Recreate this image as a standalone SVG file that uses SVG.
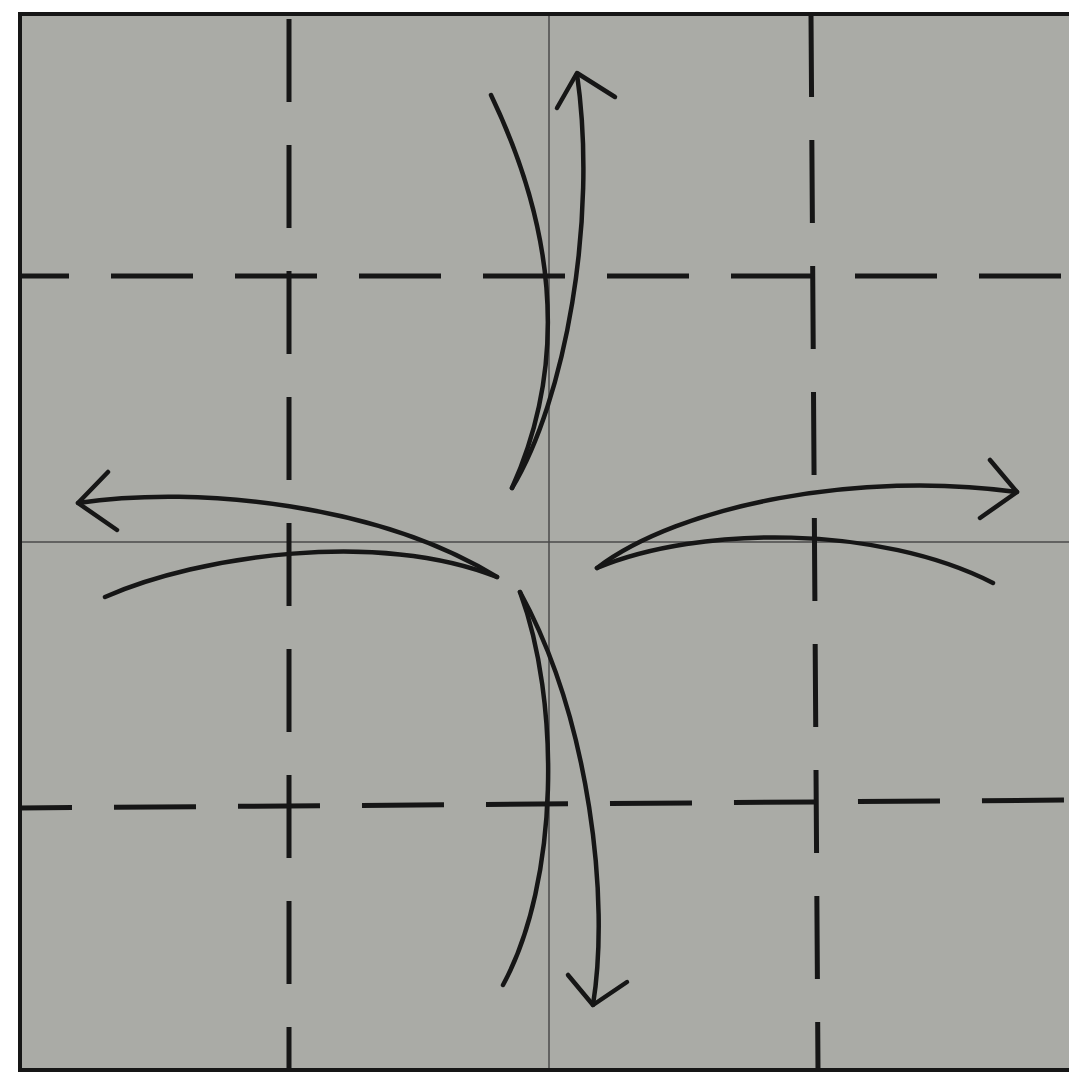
<svg xmlns="http://www.w3.org/2000/svg" width="1069" height="1082" viewBox="0 0 1069 1082">
<style>
.dash{stroke:#161616;stroke-width:5;stroke-dasharray:82 42;fill:none}
.vdash{stroke:#161616;stroke-width:5;stroke-dasharray:83 43;fill:none}
.thin{stroke:#4a4a4a;stroke-width:1.5;fill:none}
.crv{stroke:#161616;stroke-width:4.5;fill:none;stroke-linecap:round;stroke-linejoin:round}
</style>
<rect x="0" y="0" width="1069" height="1082" fill="#ffffff"/>
<rect x="20" y="14" width="1055" height="1056" fill="#aaaba6"/>
<g id="center-lines">
<line class="thin" x1="549" y1="14" x2="549" y2="1070"/>
<line class="thin" x1="20" y1="542" x2="1069" y2="542"/>
</g>
<g id="dashed-folds">
<line class="vdash" x1="289" y1="14" x2="289" y2="1070" style="stroke-dashoffset:121"/>
<line class="vdash" x1="811" y1="14" x2="818" y2="1070"/>
<line class="dash" x1="20" y1="276" x2="1069" y2="276" style="stroke-dashoffset:33"/>
<line class="dash" x1="20" y1="808" x2="1069" y2="800" style="stroke-dashoffset:30"/>
</g>
<g id="border">
<path d="M1069,14 H20 V1070 H1069" fill="none" stroke="#161616" stroke-width="4"/>
</g>
<g id="connectors">
<g id="arrow-top">
<path class="crv" d="M491,95 Q593,308 512,488"/>
<path class="crv" d="M512,488 C565,400 598,220 577,74"/>
<polyline class="crv" points="557,108 577,73 615,97"/>
</g>
<g id="arrow-left">
<path class="crv" d="M78,503 C200,485 380,505 497,577"/>
<path class="crv" d="M105,597 C200,555 380,530 497,577"/>
<polyline class="crv" points="108,472 78,503 117,530"/>
</g>
<g id="arrow-right">
<path class="crv" d="M597,568 C680,505 860,470 1017,492"/>
<path class="crv" d="M597,568 C700,525 880,525 993,583"/>
<polyline class="crv" points="990,460 1017,492 980,518"/>
</g>
<g id="arrow-bottom">
<path class="crv" d="M520,592 C560,700 560,880 503,985"/>
<path class="crv" d="M520,592 C590,720 610,900 593,1005"/>
<polyline class="crv" points="568,975 593,1005 627,982"/>
</g>
</g>
</svg>
